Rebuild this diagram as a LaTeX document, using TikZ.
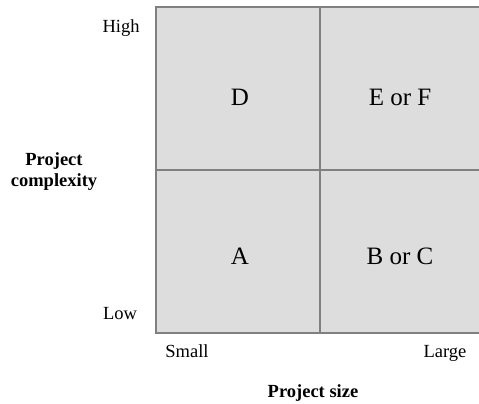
\documentclass[tikz,border=0pt]{standalone}
\usepackage{fontspec}
\setmainfont{Liberation Serif}
\usetikzlibrary{positioning}
\definecolor{gridline}{RGB}{128,128,128}
\definecolor{cellfill}{RGB}{221,221,221}

\begin{document}
\begin{tikzpicture}[
    x=1pt, y=1pt,
    cell/.style={rectangle, draw=gridline, fill=cellfill, line width=2.2pt, minimum width=164pt, minimum height=163pt, inner sep=0pt, outer sep=0pt},
    quad/.style={font=\fontsize{25}{30}\selectfont, inner sep=0pt},
    scalelabel/.style={font=\fontsize{18.5}{22}\selectfont, anchor=base, inner sep=0pt},
    axislabel/.style={font=\fontsize{18.5}{21}\selectfont\bfseries, align=center, inner sep=0pt}
]
\useasboundingbox (0,0) rectangle (479,404);

% Quadrants
\node[cell] (lowsmall) at (238,152.5) {};
\node[cell, right=0pt of lowsmall] (lowlarge) {};
\node[cell, above=0pt of lowsmall] (highsmall) {};
\node[cell, above=0pt of lowlarge] (highlarge) {};

% Quadrant labels
\node[quad] (labD) at (240,307) {D};
\node[quad] (labEF) at (400,307) {E or F};
\node[quad] (labA) at (240,148) {A};
\node[quad] (labBC) at (400,148) {B or C};

% Scale labels
\node[scalelabel] (high) at (121,371) {High};
\node[scalelabel] (low) at (120,84) {Low};
\node[scalelabel] (small) at (187,46) {Small};
\node[scalelabel] (large) at (445,46) {Large};

% Axis titles
\node[axislabel] (complexity) at (54,232.5) {Project\\complexity};
\node[axislabel, anchor=base] (size) at (313,6) {Project size};

\end{tikzpicture}
\end{document}
